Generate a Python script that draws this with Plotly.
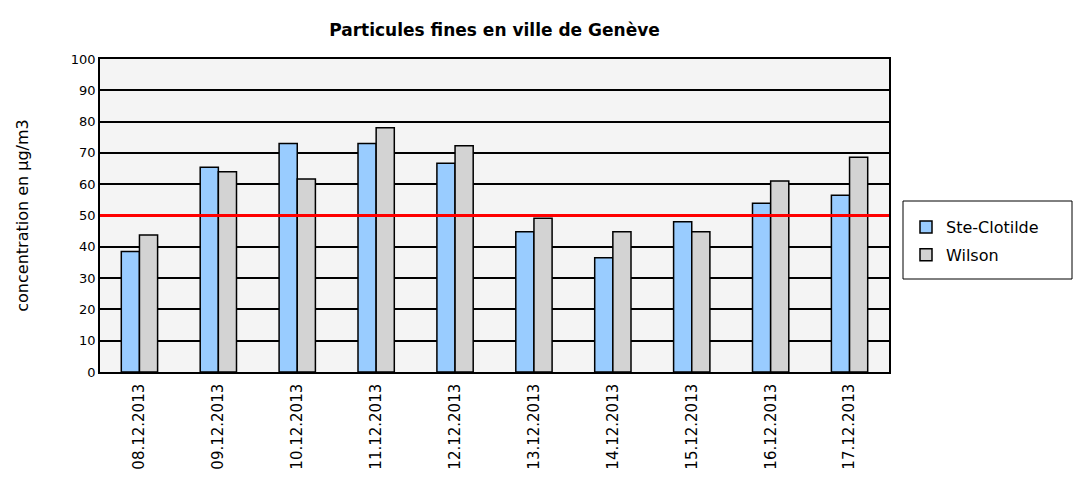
import plotly.graph_objects as go

dates = ["08.12.2013", "09.12.2013", "10.12.2013", "11.12.2013", "12.12.2013",
         "13.12.2013", "14.12.2013", "15.12.2013", "16.12.2013", "17.12.2013"]
ste_clotilde = [38.5, 65.4, 73.0, 73.0, 66.7, 44.8, 36.5, 48.0, 53.9, 56.5]
wilson = [43.8, 64.0, 61.7, 78.0, 72.3, 49.1, 44.8, 44.8, 61.0, 68.6]
limit_value = 50
y_ticks = list(range(0, 101, 10))

FONT = "DejaVu Sans, Verdana, sans-serif"
W, H = 1077, 486
L, R, T, B = 100, 889, 59, 372  # plot area in px


def px_x(px):
    return (px - L) / (R - L)


def px_y(py):
    return (B - py) / (B - T)


fig = go.Figure()
fig.add_trace(go.Bar(x=dates, y=ste_clotilde, name="Ste-Clotilde", legendgroup="a",
                     marker=dict(color="#99ccff", line=dict(color="black", width=1.5))))
fig.add_trace(go.Bar(x=dates, y=wilson, name="Wilson", legendgroup="b",
                     marker=dict(color="#d3d3d3", line=dict(color="black", width=1.5))))

fig.add_shape(type="line", xref="paper", x0=0, x1=1, yref="y", y0=limit_value, y1=limit_value,
              line=dict(color="#ff0000", width=3), layer="above")

# legend frame
fig.add_shape(type="rect", xref="paper", yref="paper",
              x0=px_x(903), x1=px_x(1072), y0=px_y(279), y1=px_y(201),
              line=dict(color="black", width=1), fillcolor="white", layer="below")

fig.update_layout(
    width=W, height=H,
    margin=dict(l=L, r=W - R, t=T, b=H - B, autoexpand=False),
    paper_bgcolor="white",
    plot_bgcolor="#f4f4f4",
    bargap=0.54, bargroupgap=0,
    barmode="group",
    title=dict(text="<b>Particules fines en ville de Genève</b>",
               x=(L + R) / 2 / W, xanchor="center", xref="container",
               y=1 - 30 / H, yanchor="middle", yref="container",
               font=dict(family=FONT, size=17, color="black")),
    font=dict(family=FONT, size=13, color="black"),
    xaxis=dict(tickangle=-90, showline=True, linecolor="black", linewidth=1.5, mirror=True,
               ticks="", tickfont=dict(size=15, family=FONT), showgrid=False, automargin=False,
               ticklabelstandoff=4),
    yaxis=dict(range=[0, 100], tickvals=y_ticks, showline=True, linecolor="black", linewidth=1.5,
               mirror=True, showgrid=True, gridcolor="black", gridwidth=1.5, zeroline=False,
               ticks="", tickfont=dict(size=13, family=FONT), automargin=False,
               title=dict(text="concentration en µg/m3", font=dict(size=16, family=FONT), standoff=38)),
    legend=dict(x=px_x(906), xanchor="left", y=px_y(210), yanchor="top",
                bgcolor="rgba(0,0,0,0)", borderwidth=0,
                font=dict(family=FONT, size=16), traceorder="grouped",
                tracegroupgap=4),
    showlegend=True,
)

fig.write_html("out.html", post_script="document.body.style.margin='0';",
               config={"displayModeBar": False})
